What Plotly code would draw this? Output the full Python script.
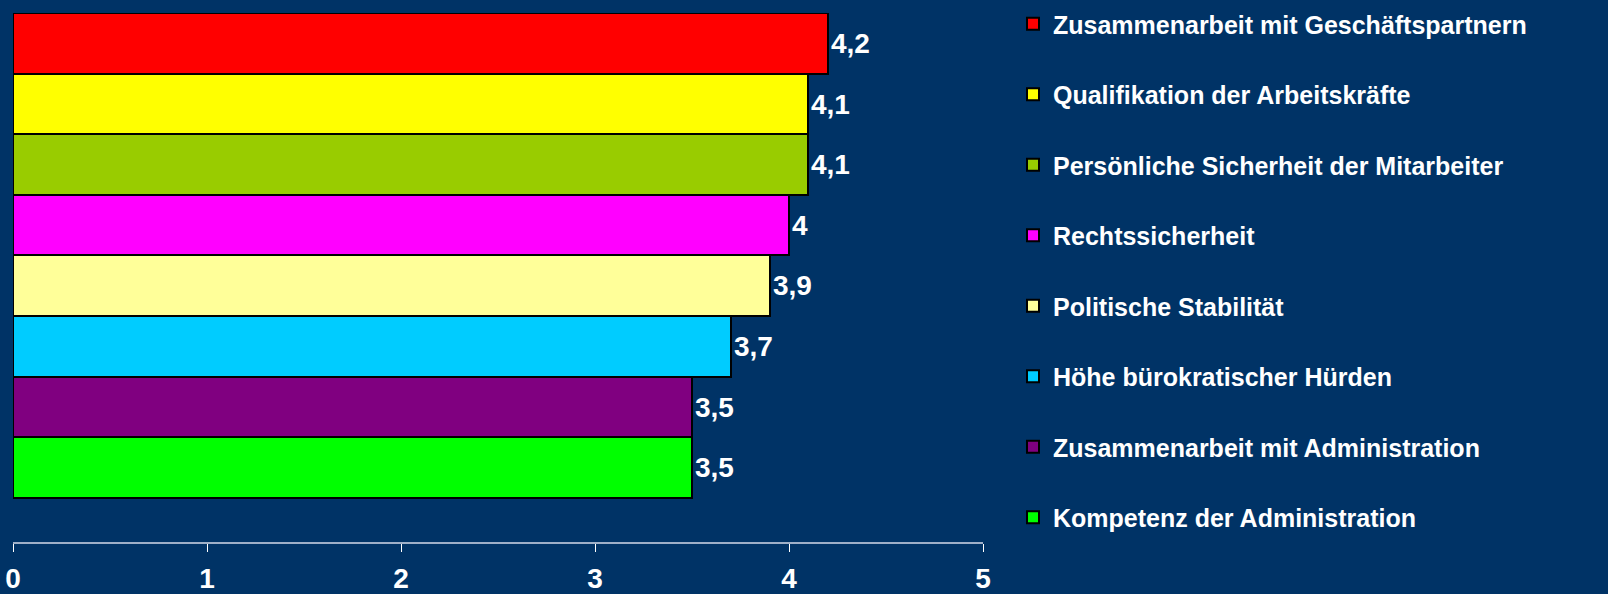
import plotly.graph_objects as go

categories = [
    "Zusammenarbeit mit Geschäftspartnern",
    "Qualifikation der Arbeitskräfte",
    "Persönliche Sicherheit der Mitarbeiter",
    "Rechtssicherheit",
    "Politische Stabilität",
    "Höhe bürokratischer Hürden",
    "Zusammenarbeit mit Administration",
    "Kompetenz der Administration",
]
values = [4.2, 4.1, 4.1, 4.0, 3.9, 3.7, 3.5, 3.5]
colors = ["#FF0000", "#FFFF00", "#99CC00", "#FF00FF", "#FFFF99", "#00CCFF", "#800080", "#00FF00"]
x_ticks = [0, 1, 2, 3, 4, 5]

BG = "#003366"
FONT = "Liberation Sans, Arial, sans-serif"

def fmt(v):
    return ("%g" % v).replace(".", ",")

fig = go.Figure()
for i, (c, v, col) in enumerate(zip(categories, values, colors)):
    fig.add_trace(go.Bar(
        y=[c], x=[v], orientation="h", name=c,
        marker=dict(color=col, line=dict(color="black", width=2)),
        width=1,
        text=[fmt(v)], textposition="outside", cliponaxis=False,
        textfont=dict(family=FONT, size=28, color="white", weight="bold"),
        legendgroup="g%d" % i,
        hoverinfo="x+name",
    ))

W, H = 1608, 594
L, R, T, B = 12.5, 1608 - 982.7, 13, 594 - 541.7
n = len(categories)
plot_h = H - T - B
unit = (497.5 - 13) / n
extra = plot_h / unit - n

fig.update_layout(
    width=W, height=H,
    paper_bgcolor=BG, plot_bgcolor=BG,
    margin=dict(l=L, r=R, t=T, b=B, pad=0, autoexpand=False),
    barmode="overlay", bargap=0,
    showlegend=True,
    legend=dict(
        xref="container", yref="container",
        x=1013 / W, y=1 - 1 / H, xanchor="left", yanchor="top",
        font=dict(family=FONT, size=25, color="white", weight="bold"),
        bgcolor="rgba(0,0,0,0)", tracegroupgap=35,
        traceorder="grouped", maxheight=H,
    ),
    xaxis=dict(
        range=[0, 5], tickvals=x_ticks, ticktext=[str(t) for t in x_ticks],
        showgrid=False, zeroline=False, automargin=False,
        showline=True, linecolor="#9fb0c8", linewidth=2,
        ticks="outside", ticklen=8, tickcolor="white", tickwidth=1,
        tickfont=dict(family=FONT, size=28, color="white", weight="bold"),
        ticklabelstandoff=2,
    ),
    yaxis=dict(
        categoryorder="array", categoryarray=categories,
        range=[n - 0.5 + extra, -0.5], automargin=False,
        showticklabels=False, showgrid=False, zeroline=False, showline=False,
        ticks="",
    ),
)

fig.write_html(
    "out.html",
    config={"displayModeBar": False},
    post_script="document.body.style.margin='0';document.body.style.background='%s';" % BG,
)
